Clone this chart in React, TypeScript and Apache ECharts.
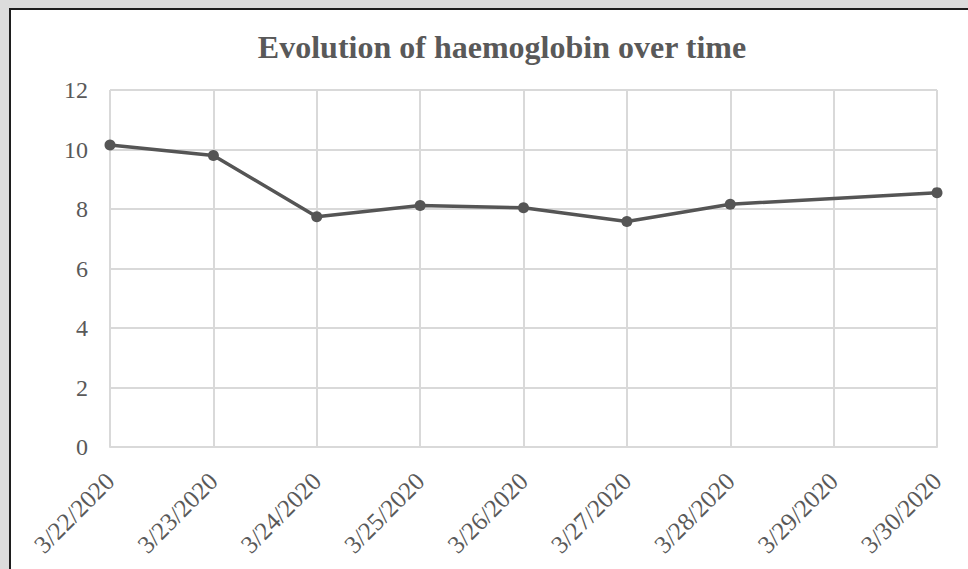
import React, { useEffect, useRef } from "react";
import * as echarts from "echarts";

const categories = ["3/22/2020", "3/23/2020", "3/24/2020", "3/25/2020", "3/26/2020", "3/27/2020", "3/28/2020", "3/29/2020", "3/30/2020"];
const haemoglobin: (number | null)[] = [10.15, 9.8, 7.74, 8.12, 8.04, 7.58, 8.16, null, 8.55];
const yTicks = { min: 0, max: 12, interval: 2 };
const titleText = "Evolution of haemoglobin over time";

export default function App() {
  const ref = useRef<HTMLDivElement>(null);
  useEffect(() => {
    if (!ref.current) return;
    const chart = echarts.init(ref.current, undefined, { renderer: "svg" });
    const serif = "'Liberation Serif', 'Times New Roman', serif";
    chart.setOption({
      animation: false,
      backgroundColor: "#dcdcdc",
      graphic: [
        {
          type: "rect",
          z: -10,
          shape: { x: 10, y: 9, width: 1000, height: 620 },
          style: { fill: "#ffffff", stroke: "#1e1e1e", lineWidth: 2 },
        },
      ],
      title: {
        text: titleText,
        left: 497,
        textAlign: "center",
        top: 26,
        textStyle: { fontFamily: serif, fontWeight: "bold", fontSize: 32, color: "#595959" },
      },
      grid: { left: 110, right: 31, top: 90, bottom: 122, containLabel: false },
      xAxis: {
        type: "category",
        data: categories,
        boundaryGap: false,
        axisLine: { lineStyle: { color: "#d9d9d9", width: 2 } },
        axisTick: { show: false },
        splitLine: { show: true, lineStyle: { color: "#d9d9d9", width: 2 } },
        axisLabel: { rotate: 45, margin: 30, fontFamily: serif, fontSize: 25, color: "#595959", interval: 0 },
      },
      yAxis: {
        type: "value",
        min: yTicks.min,
        max: yTicks.max,
        interval: yTicks.interval,
        axisLine: { show: false },
        axisTick: { show: false },
        splitLine: { lineStyle: { color: "#d9d9d9", width: 2 } },
        axisLabel: { margin: 22, fontFamily: serif, fontSize: 24, color: "#595959" },
      },
      series: [
        {
          type: "line",
          data: haemoglobin,
          connectNulls: true,
          symbol: "circle",
          symbolSize: 11,
          lineStyle: { color: "#555555", width: 3.5 },
          itemStyle: { color: "#555555" },
        },
      ],
    });
    return () => chart.dispose();
  }, []);
  return (
    <div style={{ position: "fixed", left: 0, top: 0, width: 968, height: 569 }}>
      <div ref={ref} style={{ width: 968, height: 569 }} />
    </div>
  );
}
